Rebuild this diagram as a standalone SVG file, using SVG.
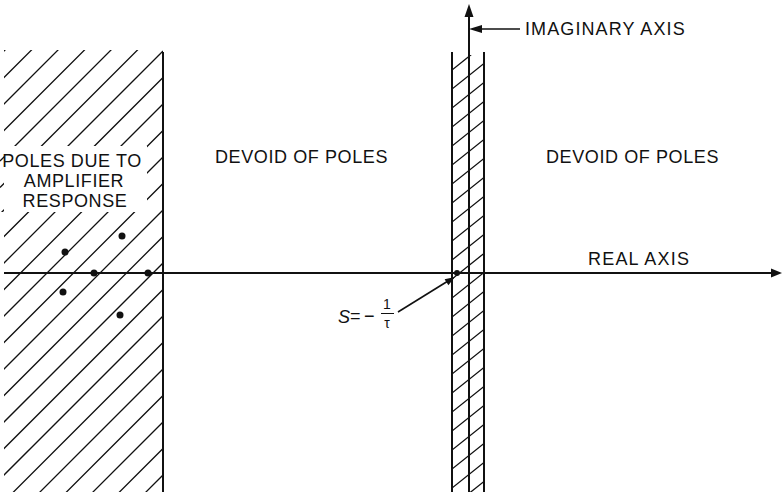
<svg xmlns="http://www.w3.org/2000/svg" width="782" height="492" viewBox="0 0 782 492">
<style>
.txt{font-family:"Liberation Sans",Arial,sans-serif;font-size:18px;fill:#111;letter-spacing:0.6px}
.hatch{stroke:#111;stroke-width:1.3;fill:none}
.bound{stroke:#111;stroke-width:2;fill:none}
.axis{stroke:#111;stroke-width:2;fill:none}
.head{fill:#111}
.dot{fill:#111}
</style>
<defs>
<clipPath id="clipLeft">
<path clip-rule="evenodd" d="M4,50 H163 V492 H4 Z M0,146 H147 V212 H0 Z"/>
</clipPath>
<clipPath id="clipStrip">
<rect x="452" y="55" width="32" height="437"/>
</clipPath>
</defs>
<rect width="782" height="492" fill="#fff"/>

<g id="left-region">
<g clip-path="url(#clipLeft)">
<path class="hatch" d="M0,55 L163,-108 M0,81.5 L163,-81.5 M0,108 L163,-55 M0,134.5 L163,-28.5 M0,161 L163,-2 M0,187.5 L163,24.5 M0,214 L163,51 M0,240.5 L163,77.5 M0,267 L163,104 M0,293.5 L163,130.5 M0,320 L163,157 M0,346.5 L163,183.5 M0,373 L163,210 M0,399.5 L163,236.5 M0,426 L163,263 M0,452.5 L163,289.5 M0,479 L163,316 M0,505.5 L163,342.5 M0,532 L163,369 M0,558.5 L163,395.5 M0,585 L163,422 M0,611.5 L163,448.5 M0,638 L163,475 M0,664.5 L163,501.5"/>
</g>
<line class="bound" x1="163" y1="52" x2="163" y2="492"/>
<circle class="dot" cx="65" cy="252" r="3.5"/>
<circle class="dot" cx="122" cy="236" r="3.5"/>
<circle class="dot" cx="94" cy="273" r="3.5"/>
<circle class="dot" cx="148" cy="273" r="3.5"/>
<circle class="dot" cx="63" cy="292" r="3.5"/>
<circle class="dot" cx="120" cy="315" r="3.5"/>
<text class="txt" x="72" y="167" text-anchor="middle">POLES DUE TO</text>
<text class="txt" x="74" y="187" text-anchor="middle">AMPLIFIER</text>
<text class="txt" x="75" y="207" text-anchor="middle">RESPONSE</text>
</g>

<g id="strip">
<g clip-path="url(#clipStrip)">
<path class="hatch" d="M452,70 L484,44.4 M452,89 L484,63.4 M452,108 L484,82.4 M452,127 L484,101.4 M452,146 L484,120.4 M452,165 L484,139.4 M452,184 L484,158.4 M452,203 L484,177.4 M452,222 L484,196.4 M452,241 L484,215.4 M452,260 L484,234.4 M452,279 L484,253.4 M452,298 L484,272.4 M452,317 L484,291.4 M452,336 L484,310.4 M452,355 L484,329.4 M452,374 L484,348.4 M452,393 L484,367.4 M452,412 L484,386.4 M452,431 L484,405.4 M452,450 L484,424.4 M452,469 L484,443.4 M452,488 L484,462.4 M452,507 L484,481.4 M452,526 L484,500.4"/>
</g>
<line class="bound" x1="452" y1="52" x2="452" y2="492"/>
<line class="bound" x1="484" y1="52" x2="484" y2="492"/>
</g>

<g id="connectors">
<line class="axis" x1="4" y1="273" x2="772" y2="273"/>
<polygon class="head" points="782,273 771,268.5 771,277.5"/>
<line class="axis" x1="469" y1="492" x2="469" y2="15"/>
<polygon class="head" points="469,4 464.5,17 473.5,17"/>
<line class="axis" x1="520" y1="29" x2="480" y2="29" style="stroke-width:1.6"/>
<polygon class="head" points="469,29 482,25 482,33"/>
<line class="axis" x1="398" y1="312" x2="448" y2="281" style="stroke-width:1.6"/>
<polygon class="head" points="455,277 448.4,285.3 444.6,279.3"/>
<circle class="dot" cx="457" cy="273" r="3"/>
</g>

<g id="middle-label">
<text class="txt" x="215" y="163">DEVOID OF POLES</text>
</g>
<g id="right-label">
<text class="txt" x="546" y="163">DEVOID OF POLES</text>
</g>
<g id="imag-label">
<text class="txt" x="525" y="35" style="letter-spacing:1.1px">IMAGINARY AXIS</text>
</g>
<g id="real-label">
<text class="txt" x="588" y="265" style="letter-spacing:1.2px">REAL AXIS</text>
</g>
<g id="s-label">
<text class="txt" x="338" y="323" style="font-style:italic;letter-spacing:0">S</text>
<text class="txt" x="350" y="322" style="letter-spacing:0">=</text>
<text class="txt" x="364" y="322" style="letter-spacing:0">−</text>
<text class="txt" x="387" y="309" text-anchor="middle" style="font-size:14px;letter-spacing:0">1</text>
<line x1="381" y1="313.5" x2="394" y2="313.5" stroke="#111" stroke-width="1"/>
<text class="txt" x="387" y="328" text-anchor="middle" style="font-size:14px;letter-spacing:0">τ</text>
</g>
</svg>
